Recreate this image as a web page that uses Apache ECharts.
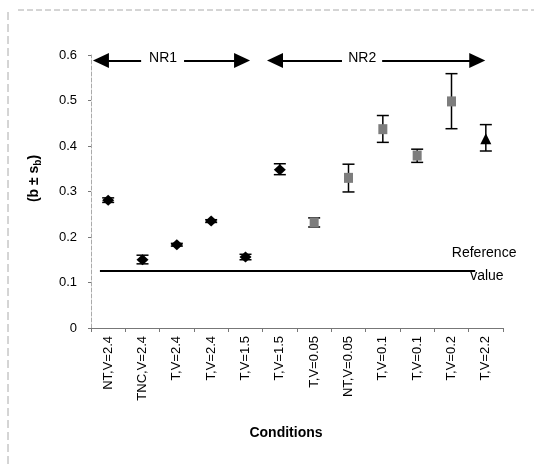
<!DOCTYPE html>
<html>
<head>
<meta charset="utf-8">
<script src="https://cdn.jsdelivr.net/npm/echarts@6/dist/echarts.min.js"></script>
<style>
  html, body { margin: 0; padding: 0; background: #fff; }
  #main { width: 534px; height: 468px; }
</style>
</head>
<body>
<div id="main"></div>
<script>
// categories (x axis)
var conditions = ['NT,V=2.4', 'TNC,V=2.4', 'T,V=2.4', 'T,V=2.4', 'T,V=1.5', 'T,V=1.5',
  'T,V=0.05', 'NT,V=0.05', 'T,V=0.1', 'T,V=0.1', 'T,V=0.2', 'T,V=2.2'];
// b values and the b - s_b / b + s_b ends
var bValues = [0.281, 0.150, 0.183, 0.235, 0.156, 0.348, 0.232, 0.330, 0.437, 0.379, 0.498, 0.416];
var bLow    = [0.276, 0.141, 0.180, 0.232, 0.150, 0.337, 0.222, 0.299, 0.408, 0.364, 0.438, 0.389];
var bHigh   = [0.286, 0.160, 0.186, 0.238, 0.162, 0.361, 0.242, 0.360, 0.467, 0.393, 0.559, 0.447];
var markers = ['diamond', 'diamond', 'diamond', 'diamond', 'diamond', 'diamond',
  'rect', 'rect', 'rect', 'rect', 'rect', 'triangle'];
var yTicks = [0, 0.1, 0.2, 0.3, 0.4, 0.5, 0.6];
var referenceValue = 0.125;

var chart = echarts.init(document.getElementById('main'));
var font = '"Liberation Sans", Arial, sans-serif';

var markerColor = { diamond: '#000', rect: '#7d7d7d', triangle: '#000' };
var markerSize = { diamond: [12, 11], rect: [9, 10], triangle: [11, 11] };

var pointData = bValues.map(function (v, i) {
  return {
    value: [i, v],
    symbol: markers[i],
    symbolSize: markerSize[markers[i]],
    itemStyle: { color: markerColor[markers[i]], opacity: 1 }
  };
});
var errData = bValues.map(function (v, i) { return [i, bLow[i], bHigh[i]]; });

var arrowY = 0.588;
var arrowSegs = [
  [{ coord: [-0.21, arrowY], symbol: 'triangle' }, { coord: [0.96, arrowY], symbol: 'none' }],
  [{ coord: [2.21, arrowY], symbol: 'none' }, { coord: [3.9, arrowY], symbol: 'triangle' }],
  [{ coord: [4.86, arrowY], symbol: 'triangle' }, { coord: [6.81, arrowY], symbol: 'none' }],
  [{ coord: [7.98, arrowY], symbol: 'none' }, { coord: [10.75, arrowY], symbol: 'triangle' }],
  [{ coord: [-0.24, referenceValue], symbol: 'none' }, { coord: [10.69, referenceValue], symbol: 'none' }]
];
var textLabels = [
  { name: 'NR1', value: [1.6, arrowY + 0.004] },
  { name: 'NR2', value: [7.4, arrowY + 0.004] },
  { name: 'Reference', value: [10.95, 0.165] },
  { name: 'value', value: [11.03, 0.114] }
];

var option = {
  backgroundColor: '#fff',
  animation: false,
  grid: { left: 91, right: 31, top: 55, bottom: 140 },
  xAxis: [{
    type: 'category',
    data: conditions,
    boundaryGap: true,
    name: 'Conditions',
    nameLocation: 'middle',
    nameGap: 98,
    nameTextStyle: { fontFamily: font, fontSize: 14, fontWeight: 'bold', color: '#000', padding: [0, 22, 0, 0] },
    axisLine: { lineStyle: { color: '#777', width: 1 } },
    axisTick: { show: true, length: 4, lineStyle: { color: '#777' } },
    axisLabel: { rotate: 90, margin: 8, fontFamily: font, fontSize: 13, color: '#000' },
    splitLine: { show: false }
  }, {
    type: 'value', min: -0.5, max: 11.5, show: false
  }],
  yAxis: {
    type: 'value',
    min: 0, max: 0.6, interval: 0.1,
    name: '(b \u00b1 s{sub|b})',
    nameLocation: 'middle',
    nameRotate: 90,
    nameGap: 48,
    nameTextStyle: {
      fontFamily: font, fontSize: 14, fontWeight: 'bold', color: '#000',
      padding: [0, 0, 0, 26],
      rich: { sub: { fontFamily: font, fontSize: 10, fontWeight: 'bold', color: '#000', padding: [8, 0, 0, 0] } }
    },
    axisLine: { show: true, onZero: false, lineStyle: { color: '#aaa', type: 'dashed', width: 1 } },
    axisTick: { show: true, inside: false, length: 3, lineStyle: { color: '#777' } },
    axisLabel: {
      margin: 14, fontFamily: font, fontSize: 13, color: '#000',
      formatter: function (v) { return yTicks.indexOf(Math.round(v * 10) / 10) >= 0 ? String(Math.round(v * 10) / 10) : ''; }
    },
    splitLine: { show: false }
  },
  graphic: [
    { type: 'line', shape: { x1: 18, y1: 10, x2: 534, y2: 10 }, style: { stroke: '#aaa', lineWidth: 1, lineDash: [6, 3] } },
    { type: 'line', shape: { x1: 8, y1: 12, x2: 8, y2: 468 }, style: { stroke: '#aaa', lineWidth: 1, lineDash: [8, 4] } }
  ],
  series: [{
    type: 'custom',
    xAxisIndex: 0,
    data: errData,
    z: 2,
    renderItem: function (params, api) {
      var x = api.value(0);
      var lo = api.coord([x, api.value(1)]);
      var hi = api.coord([x, api.value(2)]);
      var cap = 6;
      var st = { stroke: '#000', lineWidth: 1.5 };
      return {
        type: 'group',
        children: [
          { type: 'line', shape: { x1: lo[0], y1: lo[1], x2: hi[0], y2: hi[1] }, style: st },
          { type: 'line', shape: { x1: lo[0] - cap, y1: lo[1], x2: lo[0] + cap, y2: lo[1] }, style: st },
          { type: 'line', shape: { x1: hi[0] - cap, y1: hi[1], x2: hi[0] + cap, y2: hi[1] }, style: st }
        ]
      };
    }
  }, {
    type: 'scatter',
    xAxisIndex: 0,
    data: pointData,
    z: 3
  }, {
    type: 'line',
    xAxisIndex: 1,
    data: [],
    markLine: {
      silent: true,
      symbolSize: [15, 16],
      label: { show: false },
      lineStyle: { color: '#000', width: 2, type: 'solid' },
      data: arrowSegs
    }
  }, {
    type: 'scatter',
    xAxisIndex: 1,
    symbolSize: 0,
    itemStyle: { opacity: 1 },
    data: textLabels,
    label: {
      show: true, position: 'inside', formatter: '{b}',
      fontFamily: font, fontSize: 14, color: '#000'
    }
  }]
};
chart.setOption(option);
</script>
</body>
</html>
